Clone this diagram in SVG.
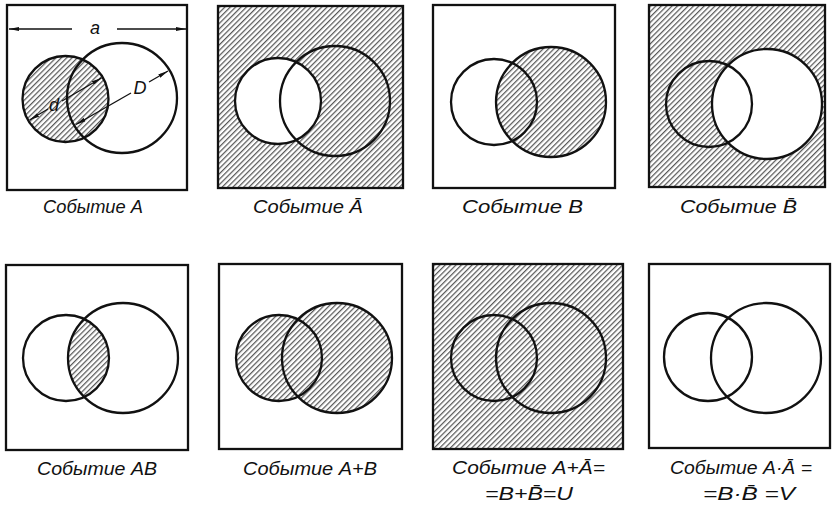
<svg xmlns="http://www.w3.org/2000/svg" width="835" height="505" viewBox="0 0 835 505">
<style>
.frame{fill:none;stroke:#111;stroke-width:2.3}
.circ{fill:none;stroke:#111;stroke-width:2.3}
.hatch{fill:url(#hatch);stroke:none}
.lbl{font-family:"Liberation Sans","DejaVu Sans",sans-serif;font-style:italic;font-size:18.5px;fill:#111}
.dim{stroke:#111;stroke-width:1.3;fill:none}
.dimtxt{font-family:"Liberation Sans","DejaVu Sans",sans-serif;font-style:italic;font-size:18px;fill:#111}
</style>
<defs>
<pattern id="hatch" patternUnits="userSpaceOnUse" width="3.8" height="20" patternTransform="rotate(45)">
<line x1="0.7" y1="0" x2="0.7" y2="20" stroke="#111" stroke-width="0.9"/>
</pattern>
<marker id="arr" viewBox="0 0 10 4" refX="10" refY="2" markerWidth="10" markerHeight="4" markerUnits="userSpaceOnUse" orient="auto-start-reverse">
<path d="M0,0 L10,2 L0,4 z" fill="#111"/>
</marker>
<clipPath id="clipA5"><circle cx="66" cy="358" r="43"/></clipPath>
</defs>
<rect width="835" height="505" fill="#fff"/>

<g id="panel-A">
<circle class="hatch" cx="65.5" cy="99" r="43"/>
<rect class="frame" x="7" y="5" width="180" height="185"/>
<circle class="circ" cx="65.5" cy="99" r="43"/>
<circle class="circ" cx="122" cy="98" r="55"/>
<text class="lbl" x="43" y="213" textLength="100" lengthAdjust="spacingAndGlyphs">Событие A</text>
</g>

<g id="panel-notA">
<path class="hatch" fill-rule="evenodd" d="M218,6 H403 V188 H218 Z M235,101 a43,43 0 1,0 86,0 a43,43 0 1,0 -86,0 Z"/>
<rect class="frame" x="218" y="6" width="185" height="182"/>
<circle class="circ" cx="278" cy="101" r="43"/>
<circle class="circ" cx="335" cy="101" r="55"/>
<text class="lbl" x="253" y="213" textLength="110" lengthAdjust="spacingAndGlyphs">Событие Ā</text>
</g>

<g id="panel-B">
<circle class="hatch" cx="551" cy="102" r="55"/>
<rect class="frame" x="433" y="5" width="182" height="183"/>
<circle class="circ" cx="494" cy="102" r="43"/>
<circle class="circ" cx="551" cy="102" r="55"/>
<text class="lbl" x="462" y="213" textLength="121" lengthAdjust="spacingAndGlyphs">Событие B</text>
</g>

<g id="panel-notB">
<path class="hatch" fill-rule="evenodd" d="M649,5 H825 V187 H649 Z M712,104 a55,55 0 1,0 110,0 a55,55 0 1,0 -110,0 Z"/>
<rect class="frame" x="649" y="5" width="176" height="182"/>
<circle class="circ" cx="709" cy="104" r="43"/>
<circle class="circ" cx="767" cy="104" r="55"/>
<text class="lbl" x="680" y="213" textLength="117" lengthAdjust="spacingAndGlyphs">Событие B̄</text>
</g>

<g id="panel-AB">
<circle class="hatch" cx="123" cy="358" r="55" clip-path="url(#clipA5)"/>
<rect class="frame" x="6" y="265" width="182" height="185"/>
<circle class="circ" cx="66" cy="358" r="43"/>
<circle class="circ" cx="123" cy="358" r="55"/>
<text class="lbl" x="37" y="475" textLength="120" lengthAdjust="spacingAndGlyphs">Событие AB</text>
</g>

<g id="panel-AplusB">
<path class="hatch" fill-rule="nonzero" d="M236,358 a43,43 0 1,0 86,0 a43,43 0 1,0 -86,0 Z M282,358 a55,55 0 1,0 110,0 a55,55 0 1,0 -110,0 Z"/>
<rect class="frame" x="219" y="264" width="183" height="185"/>
<circle class="circ" cx="279" cy="358" r="43"/>
<circle class="circ" cx="337" cy="358" r="55"/>
<text class="lbl" x="243" y="475" textLength="134" lengthAdjust="spacingAndGlyphs">Событие A+B</text>
</g>

<g id="panel-U">
<rect class="hatch" x="433" y="264" width="190" height="185"/>
<rect class="frame" x="433" y="264" width="190" height="185"/>
<circle class="circ" cx="494" cy="358" r="43"/>
<circle class="circ" cx="551" cy="358" r="55"/>
<text class="lbl" x="452" y="474" textLength="153" lengthAdjust="spacingAndGlyphs">Событие A+Ā=</text>
<text class="lbl" x="485" y="500" textLength="88" lengthAdjust="spacingAndGlyphs">=B+B̄=U</text>
</g>

<g id="panel-V">
<rect class="frame" x="649" y="264" width="181" height="184"/>
<circle class="circ" cx="708" cy="357" r="44"/>
<circle class="circ" cx="766" cy="358" r="55"/>
<text class="lbl" x="670" y="474" textLength="142" lengthAdjust="spacingAndGlyphs">Событие A·Ā =</text>
<text class="lbl" x="703" y="500" textLength="92" lengthAdjust="spacingAndGlyphs">=B·B̄ =V</text>
</g>

<g id="dimensions">
<line class="dim" x1="72" y1="29" x2="9" y2="29" marker-end="url(#arr)"/>
<line class="dim" x1="117" y1="29" x2="186" y2="29" marker-end="url(#arr)"/>
<text class="dimtxt" x="95" y="34" text-anchor="middle">a</text>
<line class="dim" x1="48" y1="109" x2="29.5" y2="120" marker-end="url(#arr)"/>
<line class="dim" x1="62" y1="101" x2="101.5" y2="78" marker-end="url(#arr)"/>
<text class="dimtxt" x="54" y="111" text-anchor="middle" font-size="16">d</text>
<line class="dim" x1="131" y1="93" x2="76" y2="124.5" marker-end="url(#arr)"/>
<line class="dim" x1="149" y1="82" x2="168" y2="71" marker-end="url(#arr)"/>
<text class="dimtxt" x="140" y="94" text-anchor="middle">D</text>
</g>
</svg>
